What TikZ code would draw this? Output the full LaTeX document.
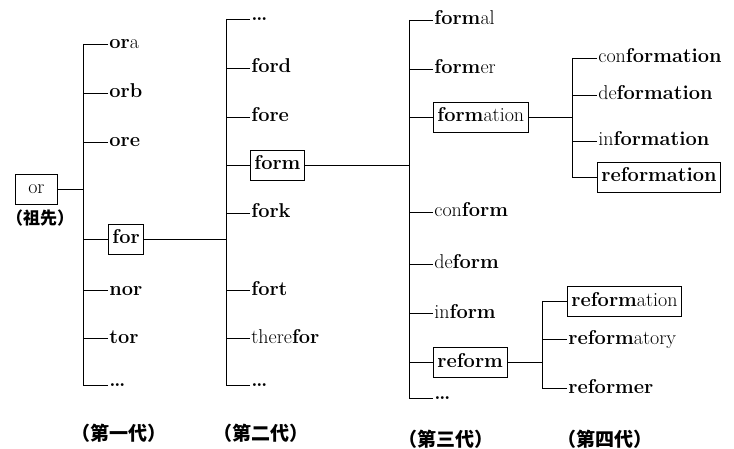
\documentclass[tikz,border=0pt]{standalone}
\usepackage{fontspec}
\newfontfamily\cjk{Noto Sans CJK SC}
\newcommand\wfont{\fontsize{20}{24}\selectfont}
\newcommand\gfont{\cjk\bfseries\fontsize{19}{22}\selectfont}
\tikzset{
  word/.style={anchor=west,inner sep=1pt,font=\wfont,text height=15pt,text depth=5pt},
  boxw/.style={word,draw,inner xsep=4pt,inner ysep=5pt},
  dots/.style={anchor=west,inner sep=1pt,font=\wfont\bfseries,text height=3pt,text depth=0pt},
  gen/.style={font=\gfont}
}
\begin{document}
\begin{tikzpicture}[x=1pt,y=-1pt,line width=0.8pt]
\useasboundingbox (0,0) rectangle (734,449);
\node [boxw,minimum width=42pt] (or) at (15,189) {or};
\node [gen,font=\cjk\bfseries\fontsize{17}{20}\selectfont] (zuxian) at (40,218) {（祖先）};
\coordinate (b1t) at (83,44);
\coordinate (b1b) at (83,385);
\draw (b1t) -- (b1b);
\draw (or.east) -- (or.east -| b1t);
\foreach \y/\n/\s/\t in {44/ora/word/{\textbf{or}a},93/orb/word/\textbf{orb},142/ore/word/\textbf{ore},239/for/boxw/\textbf{for},290/nor/word/\textbf{nor},338/tor/word/\textbf{tor},385/dA/dots/\ldots} {
  \node [\s] (\n) at (108,\y) {\t};
  \draw (\n.west) -- (\n.west -| b1t);
}
\coordinate (b2t) at (226,19);
\coordinate (b2b) at (226,385);
\draw (b2t) -- (b2b);
\draw (for.east) -- (for.east -| b2t);
\foreach \y/\n/\s/\t in {19/dB/dots/\ldots,68/ford/word/\textbf{ford},117/fore/word/\textbf{fore},165/form/boxw/\textbf{form},213/fork/word/\textbf{fork},290/fort/word/\textbf{fort},338/therefor/word/{there\textbf{for}},385/dC/dots/\ldots} {
  \node [\s] (\n) at (250,\y) {\t};
  \draw (\n.west) -- (\n.west -| b2t);
}
\coordinate (b3t) at (409,20);
\coordinate (b3b) at (409,398);
\draw (b3t) -- (b3b);
\draw (form.east) -- (form.east -| b3t);
\foreach \y/\n/\s/\t in {20/formal/word/{\textbf{form}al},69/former/word/{\textbf{form}er},117/formation/boxw/{\textbf{form}ation},212/conform/word/{con\textbf{form}},264/deform/word/{de\textbf{form}},313/inform/word/{in\textbf{form}},362/reform/boxw/\textbf{reform},398/dD/dots/\ldots} {
  \node [\s] (\n) at (433,\y) {\t};
  \draw (\n.west) -- (\n.west -| b3t);
}
\coordinate (b4t) at (572,58);
\coordinate (b4b) at (572,177);
\draw (b4t) -- (b4b);
\draw (formation.east) -- (formation.east -| b4t);
\foreach \y/\n/\s/\t in {58/conformation/word/{con\textbf{formation}},95/deformation/word/{de\textbf{formation}},141/information/word/{in\textbf{formation}},177/reformationA/boxw/\textbf{reformation}} {
  \node [\s] (\n) at (597,\y) {\t};
  \draw (\n.west) -- (\n.west -| b4t);
}
\coordinate (b5t) at (542,301);
\coordinate (b5b) at (542,388);
\draw (b5t) -- (b5b);
\draw (reform.east) -- (reform.east -| b5t);
\foreach \y/\n/\s/\t in {301/reformationB/boxw/{\textbf{reform}ation},339/reformatory/word/{\textbf{reform}atory},388/reformer/word/\textbf{reformer}} {
  \node [\s] (\n) at (567,\y) {\t};
  \draw (\n.west) -- (\n.west -| b5t);
}
\node [gen] (g1) at (119,433) {（第一代）};
\node [gen] (g2) at (261,433) {（第二代）};
\node [gen] (g3) at (446,439) {（第三代）};
\node [gen] (g4) at (605,439) {（第四代）};
\end{tikzpicture}
\end{document}
